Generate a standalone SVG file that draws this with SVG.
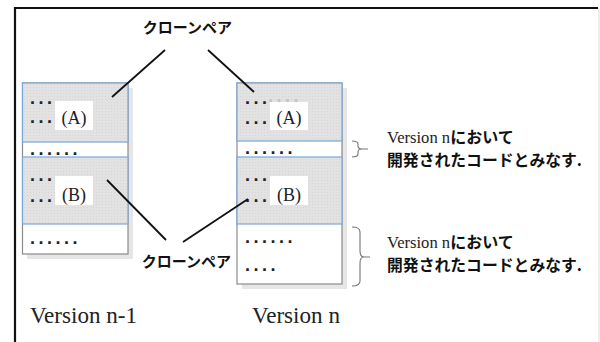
<svg xmlns="http://www.w3.org/2000/svg" width="600" height="342" viewBox="0 0 600 342">
<defs>
<pattern id="hatch" width="3" height="3" patternUnits="userSpaceOnUse">
<rect width="3" height="3" fill="#e2e2e2"/>
<rect width="1" height="1" fill="#d6d6d6"/>
</pattern>
</defs>
<style>
.frame{fill:none;stroke:#111;stroke-width:2.2}
.shadow{fill:#e6e6e6}
.box{fill:#fff;stroke:#8a8a8a;stroke-width:1.2}
.shade{fill:url(#hatch);stroke:#79a7db;stroke-width:1.2}
.lbl{fill:#fff}
.dots{font-family:"Liberation Sans",Arial,sans-serif;font-weight:bold;font-size:18px;letter-spacing:3.5px;fill:#222}
.faint{fill:#c4c4c4}
.ser{font-family:"Liberation Serif","Times New Roman",serif;fill:#222}
.jp{font-family:"Noto Sans CJK JP",sans-serif;font-weight:bold;fill:#111}
.conn{stroke:#111;stroke-width:1.8;fill:none}
.brace{stroke:#777;stroke-width:1.1;fill:none}
</style>
<rect width="600" height="342" fill="#fff"/>
<path class="frame" d="M15,342 V8 H598"/>
<line x1="599" y1="8" x2="599" y2="342" stroke="#ddd" stroke-width="1"/>

<g id="version-n-1">
<rect class="shadow" x="27" y="88" width="106" height="171"/>
<rect class="box" x="22.5" y="83" width="105.5" height="171"/>
<rect class="shade" x="22.5" y="83" width="105.5" height="59"/>
<rect class="shade" x="22.5" y="157" width="105.5" height="67"/>
<text class="dots" x="30" y="104">...</text>
<text class="dots" x="30" y="123">...</text>
<rect class="lbl" x="55" y="101" width="38" height="29"/>
<text class="ser" x="74" y="124" font-size="18" text-anchor="middle">(A)</text>
<text class="dots" x="30" y="154.5">......</text>
<text class="dots" x="30" y="180.5">...</text>
<text class="dots" x="30" y="202">...</text>
<rect class="lbl" x="55" y="176" width="38" height="29"/>
<text class="ser" x="74" y="200.5" font-size="18" text-anchor="middle">(B)</text>
<text class="dots" x="30" y="243.5">......</text>
<text class="ser" x="30" y="323" font-size="22.5" textLength="107" lengthAdjust="spacingAndGlyphs">Version n-1</text>
</g>

<g id="version-n">
<rect class="shadow" x="242" y="88" width="105" height="201"/>
<rect class="box" x="237" y="83" width="105" height="201"/>
<rect class="shade" x="237" y="83" width="105" height="58"/>
<rect class="shade" x="237" y="157" width="105" height="67"/>
<text class="dots faint" x="268" y="102">....</text>
<text class="dots" x="245" y="103.5">...</text>
<text class="dots" x="245" y="123.5">...</text>
<rect class="lbl" x="270" y="102" width="38" height="28"/>
<text class="ser" x="289" y="124" font-size="18" text-anchor="middle">(A)</text>
<text class="dots" x="245" y="153.5">......</text>
<text class="dots" x="245" y="180.5">...</text>
<text class="dots" x="245" y="201.5">...</text>
<rect class="lbl" x="270" y="176" width="38" height="29"/>
<text class="ser" x="289" y="200.5" font-size="18" text-anchor="middle">(B)</text>
<text class="dots" x="245" y="242.5">......</text>
<text class="dots" x="245" y="270.5">....</text>
<text class="ser" x="252" y="323" font-size="22.5" textLength="88" lengthAdjust="spacingAndGlyphs">Version n</text>
</g>

<g id="clone-pair-top">
<text class="jp" x="187.5" y="33" font-size="15" text-anchor="middle">クローンペア</text>
</g>
<g id="clone-pair-bottom">
<text class="jp" x="186.5" y="266.5" font-size="15" text-anchor="middle">クローンペア</text>
</g>

<g id="note-1">
<path class="brace" d="M352,141 Q358,141 358,144 V146 Q358,149 362,149 H368 M362,149 Q358,149 358,152 V154 Q358,157 352,157"/>
<text x="387" y="143" font-size="16"><tspan class="ser" font-size="16.6">Version n</tspan><tspan class="jp" font-size="16">において</tspan></text>
<text class="jp" x="387" y="166" font-size="16" textLength="195" lengthAdjust="spacingAndGlyphs">開発されたコードとみなす.</text>
</g>

<g id="note-2">
<path class="brace" d="M352,227 Q360,227 360,232 V251 Q360,257 364,257 H370 M364,257 Q360,257 360,263 V281 Q360,286 352,286"/>
<text x="387" y="248" font-size="16"><tspan class="ser" font-size="16.6">Version n</tspan><tspan class="jp" font-size="16">において</tspan></text>
<text class="jp" x="387" y="271" font-size="16" textLength="195" lengthAdjust="spacingAndGlyphs">開発されたコードとみなす.</text>
</g>

<g id="connectors">
<line class="conn" x1="165" y1="50" x2="112" y2="97"/>
<line class="conn" x1="208" y1="50" x2="254" y2="92"/>
<line class="conn" x1="107" y1="180" x2="166" y2="240"/>
<line class="conn" x1="183" y1="242" x2="248" y2="199"/>
</g>
</svg>
